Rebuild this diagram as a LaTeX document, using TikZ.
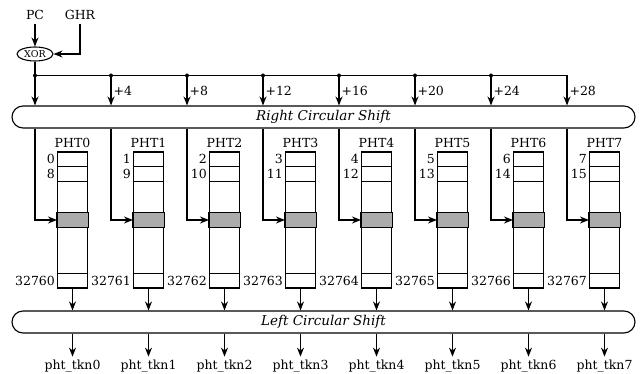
\documentclass[tikz,border=0pt]{standalone}
\usepackage{fontspec}
\setmainfont{DejaVu Serif}
\usetikzlibrary{positioning, arrows.meta, shapes.geometric, shapes.misc, calc}

\begin{document}
\begin{tikzpicture}[
    x=1pt, y=-1pt,
    >={Stealth[length=9pt, width=7pt]},
    font=\fontsize{12.5}{14}\selectfont,
    every path/.style={line width=1.1pt},
    % Styles for nodes
    shiftbar/.style={draw, rounded rectangle, minimum width=623pt, minimum height=22pt, inner sep=0pt, font=\fontsize{13.5}{15}\selectfont\itshape},
    xorgate/.style={draw, ellipse, inner sep=0pt, minimum width=36pt, minimum height=14pt, font=\fontsize{9.5}{10}\selectfont},
    tablebox/.style={draw, rectangle, minimum width=30pt, minimum height=136pt, inner sep=0pt},
    junction/.style={circle, fill, inner sep=0pt, minimum size=4pt}
]
    \useasboundingbox (0,0) rectangle (641,374);

    % Index hash
    \node (pc) at (35,15) {PC};
    \node (ghr) at (80,15) {GHR};
    \node (xor) [xorgate] at (35,54) {XOR};
    \coordinate (j0) at (35,75.5);
    \coordinate (ghrturn) at (ghr |- xor);

    \draw [->] (pc) -- (xor);
    \draw [->] (ghr) -- (ghrturn) -- (xor);
    \draw (xor) -- (j0);

    % Shifters
    \node (rcs) [shiftbar] at (323.5,117) {Right Circular Shift};
    \node (lcs) [shiftbar] at (323.5,322) {Left Circular Shift};

    \foreach \i in {0,...,7} {
        \pgfmathsetmacro{\ax}{35+76*\i}
        \pgfmathsetmacro{\cx}{72.5+76*\i}
        \pgfmathtruncatemacro{\second}{8+\i}
        \edef\last{\the\numexpr32760+\i\relax}
        \coordinate (j\i) at (\ax,75.5);

        % Pattern history table
        \node (pht\i) [tablebox] at (\cx,220) {};
        \node [above=0pt of pht\i] {PHT\i};
        \draw ($(pht\i.north west)+(0,15)$) -- ++(30,0);
        \draw ($(pht\i.north west)+(0,30)$) -- ++(30,0);
        \draw [fill=black!33] ($(pht\i.west)+(0,-7.3)$) rectangle ($(pht\i.east)+(0,7.3)$);
        \draw ($(pht\i.south west)+(0,-15)$) -- ++(30,0);
        \node [anchor=east, inner sep=1.5pt] at ($(pht\i.north west)+(0,7.5)$) {\i};
        \node [anchor=east, inner sep=1.5pt] at ($(pht\i.north west)+(0,22.5)$) {\second};
        \node [anchor=east, inner sep=1.5pt] at ($(pht\i.south west)+(0,-7.5)$) {\last};

        % Arrows through the shifters
        \draw [->] (j\i) -- (j\i |- rcs.north);
        \draw [->] (rcs.south -| j\i) |- (pht\i.west);
        \draw [->] (pht\i.south) -- (pht\i.south |- lcs.north);
        \node (tkn\i) [anchor=base] at (\cx,370) {pht\_tkn\i};
        \draw [->] (lcs.south -| pht\i.south) -- (tkn\i.north);
    }

    % Offsets
    \draw (j0) -- (j7);
    \foreach \i [evaluate=\i as \off using int(4*\i)] in {1,...,7} {
        \node [anchor=west, inner sep=0pt] at ($(j\i)+(2,15)$) {+\off};
    }
    \foreach \i in {0,...,6} {
        \node [junction] at (j\i) {};
    }

\end{tikzpicture}
\end{document}
